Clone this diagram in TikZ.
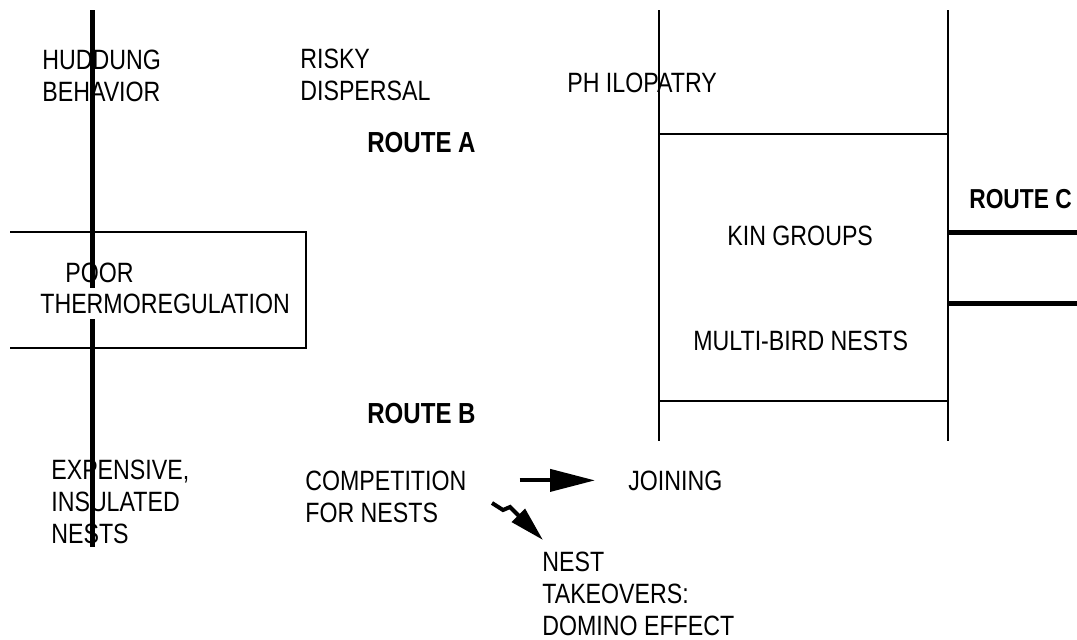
\documentclass[tikz,border=0pt]{standalone}
\usepackage{fontspec}
\setmainfont{Liberation Sans}[FakeStretch=0.83]
\usetikzlibrary{arrows.meta}

\tikzset{
  lbl/.style={anchor=base west, inner sep=0pt, align=left,
    font=\fontsize{15.9}{18.2}\selectfont},
  route/.style={lbl, font=\fontsize{16.5}{18.2}\selectfont\bfseries},
  bar/.style={line width=0.1cm},
  wall/.style={line width=0.055cm},
  bigarrow/.style={line width=0.08cm, -{Triangle[length=0.9cm,width=0.44cm]}},
  smallarrow/.style={line width=0.08cm, -{Triangle[length=0.7cm,width=0.36cm]}}
}

\begin{document}
\begin{tikzpicture}[x=0.02cm, y=-0.02cm]
\useasboundingbox (0, 0) rectangle (1077, 639);

% left column (multi-line labels sit on their last baseline)
\draw [bar] (92, 10) -- (92, 547);
\draw [wall] (10, 232) -- (306, 232) -- (306, 348) -- (10, 348);
\node [lbl] (huddle) at (42, 101) {HUDDUNG\\BEHAVIOR};
\node [lbl] (poor) at (65, 282) {POOR};
\node [lbl, fill=white, inner ysep=3pt] (thermo) at (40, 313) {THERMOREGULATION};
\node [lbl] (expnest) at (51, 543) {EXPENSIVE,\\INSULATED\\NESTS};

% middle
\node [lbl] (disp) at (300, 100) {RISKY\\DISPERSAL};
\node [lbl] (philo) at (567, 92) {PH ILOPATRY};
\node [route] (routea) at (367, 152) {ROUTE A};
\node [route] (routeb) at (367, 423) {ROUTE B};
\node [lbl] (comp) at (305, 522) {COMPETITION\\FOR NESTS};
\node [lbl] (join) at (628, 490) {JOINING};
\node [lbl] (takeover) at (542, 635) {NEST\\TAKEOVERS:\\DOMINO EFFECT};

% right block
\draw [wall] (659, 10) -- (659, 441);
\draw [wall] (948, 10) -- (948, 441);
\draw [wall] (659, 134) -- (948, 134);
\draw [wall] (659, 401) -- (948, 401);
\draw [bar] (948, 232) -- (1077, 232);
\draw [bar] (948, 303) -- (1077, 303);
\node [lbl] (kin) at (727, 245) {KIN GROUPS};
\node [lbl] (multi) at (693, 350) {MULTI-BIRD NESTS};
\node [route, font=\fontsize{15.6}{18.2}\selectfont\bfseries] (routec) at (969, 208) {ROUTE C};

% arrows
\coordinate (wiggle) at (492, 503);
\coordinate (tip) at (543, 540);
\draw [bigarrow, shorten <=1.06cm, shorten >=0.66cm] (comp.east |- join.west) -- (join.west);
\draw [smallarrow] (wiggle) -- ++(11, 7) -- ++(7, -3) -- (tip);
\end{tikzpicture}
\end{document}
